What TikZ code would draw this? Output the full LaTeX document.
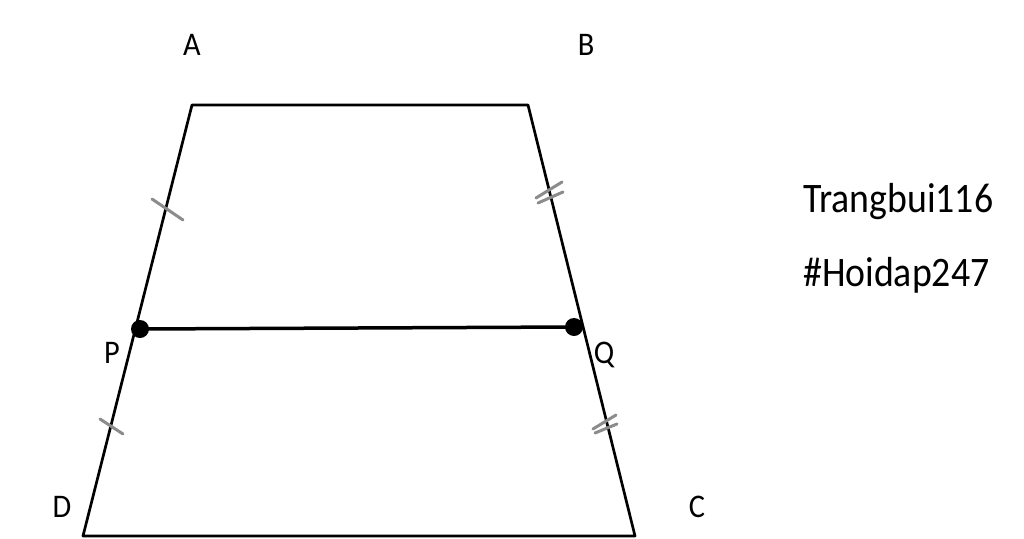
\documentclass[tikz,border=0pt]{standalone}
\usepackage{fontspec}
\setmainfont{Carlito}
\begin{document}
\begin{tikzpicture}[x=1pt,y=-1pt,
  edge/.style={line width=2.7pt,line cap=round,line join=round},
  mid/.style={line width=3.5pt},
  tick/.style={line width=3pt,black!45,line cap=round},
  vlabel/.style={anchor=base,inner sep=0pt,font=\fontsize{33}{38}\selectfont,xscale=0.92,transform shape},
  note/.style={anchor=base west,inner sep=0pt,font=\fontsize{42}{48}\selectfont,xscale=0.9,transform shape},
  dot/.style={circle,fill=black,inner sep=0pt,minimum size=18pt}]
\useasboundingbox (0,0) rectangle (1024,538);
\coordinate (A) at (192,105);
\coordinate (B) at (528,105);
\coordinate (C) at (635,536);
\coordinate (D) at (83,536);
\node[dot] (P) at (140,329) {};
\node[dot] (Q) at (574,327) {};
\draw[edge] (D) -- (A) -- (B) -- (C) -- cycle;
\draw[mid] (P.center) -- (Q.center);
% tick marks
\coordinate (t1a) at (152,199); \coordinate (t1b) at (183,220);
\draw[tick] (t1a) -- (t1b);
\coordinate (t3a) at (100,419); \coordinate (t3b) at (123,434);
\draw[tick] (t3a) -- (t3b);
\coordinate (t2a) at (536,198); \coordinate (t2b) at (562,182);
\coordinate (t2c) at (538,203); \coordinate (t2d) at (563,192);
\draw[tick] (t2a) -- (t2b);
\draw[tick] (t2c) -- (t2d);
\coordinate (t4a) at (593,429); \coordinate (t4b) at (616,415);
\coordinate (t4c) at (595,433); \coordinate (t4d) at (617,424);
\draw[tick] (t4a) -- (t4b);
\draw[tick] (t4c) -- (t4d);
% labels
\node[vlabel] (lA) at (192,55) {A};
\node[vlabel] (lB) at (586,55) {B};
\node[vlabel] (lP) at (112,363) {P};
\node[vlabel] (lQ) at (604,363) {Q};
\node[vlabel] (lD) at (62,517) {D};
\node[vlabel] (lC) at (697,517) {C};
\node[note] (n1) at (803,212) {Trangbui116};
\node[note] (n2) at (803,286) {\#Hoidap247};
\end{tikzpicture}
\end{document}
